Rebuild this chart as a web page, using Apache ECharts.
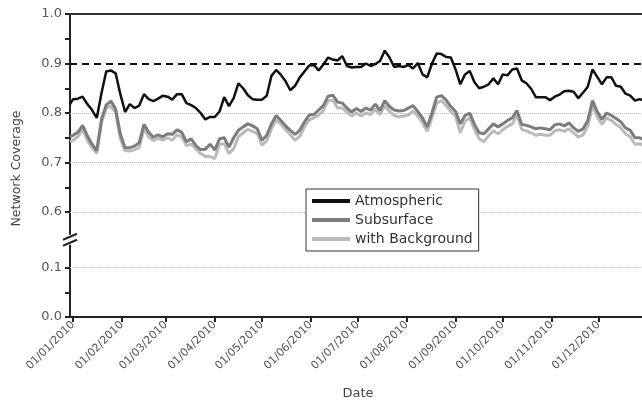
<!DOCTYPE html>
<html>
<head>
<meta charset="utf-8">
<script src="https://cdn.jsdelivr.net/npm/echarts@6/dist/echarts.min.js"></script>
<style>
  html, body { margin: 0; padding: 0; background: #fff; }
  #chart { width: 642px; height: 404px; }
</style>
</head>
<body>
<div id="chart"></div>
<script>
// day offsets from 01/01/2010, one sample every 3 days
const days = [-2, 0, 3, 6, 9, 12, 15, 18, 21, 24, 27, 30, 33, 36, 39, 42, 45, 48, 51, 54, 57,
  60, 63, 66, 69, 72, 75, 78, 81, 84, 87, 90, 93, 96, 99, 102, 105, 108, 111, 114, 117,
  120, 123, 126, 129, 132, 135, 138, 141, 144, 147, 150, 153, 156, 159, 162, 165, 168, 171, 174, 177,
  180, 183, 186, 189, 192, 195, 198, 201, 204, 207, 210, 213, 216, 219, 222, 225, 228, 231, 234, 237,
  240, 243, 246, 249, 252, 255, 258, 261, 264, 267, 270, 273, 276, 279, 282, 285, 288, 291, 294, 297,
  300, 303, 306, 309, 312, 315, 318, 321, 324, 327, 330, 333, 336, 339, 342, 345, 348, 351, 354, 357,
  360, 363]

const atmospheric = [0.818, 0.828, 0.829, 0.833, 0.818, 0.806, 0.790, 0.840, 0.884, 0.886, 0.880,
  0.838, 0.802, 0.818, 0.810, 0.815, 0.838, 0.828, 0.824, 0.829, 0.835,
  0.833, 0.827, 0.838, 0.838, 0.820, 0.816, 0.810, 0.800, 0.787, 0.792,
  0.792, 0.803, 0.832, 0.814, 0.830, 0.860, 0.850, 0.836, 0.828, 0.827,
  0.827, 0.835, 0.875, 0.887, 0.877, 0.864, 0.846, 0.855, 0.872, 0.884,
  0.896, 0.897, 0.886, 0.898, 0.912, 0.908, 0.906, 0.915, 0.895, 0.892,
  0.893, 0.893, 0.900, 0.895, 0.899, 0.905, 0.926, 0.912, 0.893, 0.895,
  0.893, 0.897, 0.890, 0.901, 0.878, 0.872, 0.900, 0.920, 0.919, 0.913,
  0.912, 0.888, 0.858, 0.878, 0.885, 0.862, 0.850, 0.853, 0.858, 0.870,
  0.858, 0.878, 0.876, 0.888, 0.890, 0.866, 0.860, 0.849, 0.832, 0.832,
  0.832, 0.826, 0.833, 0.837, 0.844, 0.845, 0.843, 0.830, 0.841, 0.853,
  0.888, 0.873, 0.858, 0.872, 0.872, 0.855, 0.853, 0.839, 0.835, 0.825,
  0.828, 0.825]

const subsurface = [0.752, 0.755, 0.761, 0.775, 0.754, 0.737, 0.724, 0.787, 0.816, 0.824, 0.808,
  0.757, 0.730, 0.730, 0.733, 0.740, 0.777, 0.761, 0.751, 0.756, 0.752,
  0.758, 0.757, 0.766, 0.761, 0.742, 0.748, 0.734, 0.726, 0.727, 0.737,
  0.725, 0.748, 0.750, 0.731, 0.750, 0.765, 0.772, 0.778, 0.774, 0.768,
  0.745, 0.755, 0.778, 0.795, 0.785, 0.774, 0.765, 0.757, 0.765, 0.782,
  0.796, 0.797, 0.806, 0.815, 0.834, 0.836, 0.822, 0.820, 0.810, 0.802,
  0.809, 0.803, 0.810, 0.806, 0.818, 0.805, 0.825, 0.813, 0.806, 0.804,
  0.805, 0.810, 0.815, 0.803, 0.790, 0.772, 0.800, 0.832, 0.835, 0.826,
  0.813, 0.803, 0.778, 0.795, 0.800, 0.777, 0.760, 0.758, 0.768, 0.778,
  0.772, 0.778, 0.785, 0.790, 0.805, 0.777, 0.775, 0.772, 0.768, 0.770,
  0.768, 0.766, 0.776, 0.778, 0.774, 0.780, 0.770, 0.763, 0.768, 0.785,
  0.825, 0.803, 0.787, 0.800, 0.795, 0.789, 0.782, 0.770, 0.765, 0.750,
  0.750, 0.745]

const withBackground = [0.742, 0.745, 0.752, 0.767, 0.745, 0.730, 0.718, 0.780, 0.810, 0.814, 0.800,
  0.748, 0.724, 0.723, 0.726, 0.730, 0.768, 0.752, 0.744, 0.749, 0.745,
  0.750, 0.745, 0.756, 0.752, 0.734, 0.737, 0.728, 0.718, 0.712, 0.712,
  0.708, 0.737, 0.738, 0.718, 0.728, 0.752, 0.760, 0.767, 0.763, 0.758,
  0.735, 0.744, 0.768, 0.786, 0.778, 0.766, 0.756, 0.745, 0.753, 0.772,
  0.786, 0.790, 0.796, 0.805, 0.825, 0.826, 0.810, 0.810, 0.802, 0.794,
  0.800, 0.794, 0.800, 0.797, 0.808, 0.797, 0.815, 0.803, 0.795, 0.792,
  0.794, 0.796, 0.804, 0.794, 0.780, 0.763, 0.790, 0.820, 0.825, 0.815,
  0.803, 0.793, 0.760, 0.784, 0.790, 0.767, 0.748, 0.742, 0.754, 0.764,
  0.758, 0.766, 0.773, 0.778, 0.795, 0.767, 0.764, 0.760, 0.755, 0.757,
  0.755, 0.755, 0.764, 0.766, 0.763, 0.768, 0.760, 0.752, 0.756, 0.773,
  0.815, 0.793, 0.777, 0.790, 0.785, 0.777, 0.770, 0.758, 0.752, 0.737,
  0.738, 0.733]

const legendNames = ['Atmospheric', 'Subsurface', 'with Background']
const upperGrid = [0.6, 0.7, 0.8]
const lowerGrid = [0.1]
const threshold = 0.9
// the y axis is broken between these two values
const breakStart = 0.15
const breakEnd = 0.55

const start = Date.UTC(2010, 0, 1)
const xMin = Date.UTC(2009, 11, 30)
const xMax = Date.UTC(2010, 11, 31)
const DAY = 86400000
function pairs (vals) {
  return days.map((d, i) => [start + d * DAY, vals[i]])
}
function pad (n) { return (n < 10 ? '0' : '') + n }
function tenth (v) {
  return Math.abs(v * 10 - Math.round(v * 10)) < 1e-6
}

const font = 'DejaVu Sans'
const axisColor = '#222'
const labelColor = '#555'

function yAxisOf (gridIndex, min, max) {
  return {
    type: 'value',
    gridIndex: gridIndex,
    min: min,
    max: max,
    interval: 0.05,
    axisLine: { show: true, lineStyle: { color: axisColor, width: 2 } },
    axisTick: { show: true, inside: false, length: 5, lineStyle: { color: axisColor, width: 2 } },
    axisLabel: {
      fontFamily: font,
      fontSize: 13,
      color: labelColor,
      margin: 8,
      formatter: function (v) {
        return tenth(v) ? v.toFixed(1) : ''
      }
    },
    splitLine: { show: false }
  }
}

let myChart = echarts.init(document.getElementById('chart'))
myChart.setOption({
  backgroundColor: '#fff',
  animation: false,
  textStyle: { fontFamily: font },
  grid: [{
    left: 70,
    top: 14,
    right: -4,
    height: 222.75,
    containLabel: false,
    outerBoundsMode: 'none'
  }, {
    left: 70,
    top: 242.75,
    right: -4,
    bottom: 87,
    containLabel: false,
    outerBoundsMode: 'none'
  }],
  legend: {
    orient: 'vertical',
    left: 306,
    top: 189,
    data: legendNames,
    icon: 'rect',
    itemWidth: 38,
    itemHeight: 4,
    itemGap: 5,
    padding: [5, 6, 5, 6],
    borderColor: '#333',
    borderWidth: 1,
    backgroundColor: '#fff',
    textStyle: { fontFamily: font, fontSize: 14, color: '#333' }
  },
  xAxis: [{
    type: 'time',
    gridIndex: 0,
    position: 'top',
    min: xMin,
    max: xMax,
    axisLine: { show: true, lineStyle: { color: '#333', width: 2 } },
    axisTick: { show: false },
    axisLabel: { show: false },
    splitLine: { show: false }
  }, {
    type: 'time',
    gridIndex: 1,
    min: xMin,
    max: xMax,
    splitNumber: 12,
    name: 'Date',
    nameLocation: 'middle',
    nameGap: 70,
    nameTextStyle: { fontFamily: font, fontSize: 13, color: '#444' },
    axisLine: { lineStyle: { color: axisColor, width: 2 } },
    axisTick: { show: true, length: 5, lineStyle: { color: axisColor, width: 2 } },
    splitLine: { show: false },
    axisLabel: {
      rotate: 45,
      fontFamily: font,
      fontSize: 11,
      color: labelColor,
      margin: 6,
      formatter: function (v) {
        let d = new Date(v)
        return pad(d.getUTCDate()) + '/' + pad(d.getUTCMonth() + 1) + '/' + d.getUTCFullYear()
      }
    }
  }],
  yAxis: [yAxisOf(0, breakEnd, 1), yAxisOf(1, 0, breakStart)],
  series: [
    {
      name: 'with Background',
      type: 'line',
      xAxisIndex: 0,
      yAxisIndex: 0,
      data: pairs(withBackground),
      symbol: 'none',
      z: 2,
      lineStyle: { color: '#bababa', width: 3 },
      itemStyle: { color: '#bababa' },
      markLine: {
        symbol: 'none',
        silent: true,
        z: 1,
        data: upperGrid.map(v => ({ yAxis: v })),
        lineStyle: { type: 'dotted', color: '#bbb', width: 1 },
        label: { show: false }
      }
    },
    {
      name: 'Subsurface',
      type: 'line',
      xAxisIndex: 0,
      yAxisIndex: 0,
      data: pairs(subsurface),
      symbol: 'none',
      z: 3,
      lineStyle: { color: '#7c7c7c', width: 3 },
      itemStyle: { color: '#7c7c7c' }
    },
    {
      name: 'Atmospheric',
      type: 'line',
      xAxisIndex: 0,
      yAxisIndex: 0,
      data: pairs(atmospheric),
      symbol: 'none',
      z: 4,
      lineStyle: { color: '#111', width: 2.5 },
      itemStyle: { color: '#111' },
      markLine: {
        symbol: 'none',
        silent: true,
        data: [{ yAxis: threshold }],
        lineStyle: { type: [7, 5], color: '#111', width: 2 },
        label: { show: false }
      }
    },
    {
      name: 'lower',
      type: 'line',
      xAxisIndex: 1,
      yAxisIndex: 1,
      data: [],
      markLine: {
        symbol: 'none',
        silent: true,
        data: lowerGrid.map(v => ({ yAxis: v })),
        lineStyle: { type: 'dotted', color: '#bbb', width: 1 },
        label: { show: false }
      }
    }
  ]
})

// "//" break marks and the shared y axis title, placed from the axis scales
let yTop = myChart.convertToPixel({ yAxisIndex: 0 }, breakEnd)
let yBot = myChart.convertToPixel({ yAxisIndex: 1 }, breakStart)
let yHigh = myChart.convertToPixel({ yAxisIndex: 0 }, 1)
let yLow = myChart.convertToPixel({ yAxisIndex: 1 }, 0)
let ax = myChart.convertToPixel({ xAxisIndex: 0 }, xMin)
let mid = (yTop + yBot) / 2
myChart.setOption({
  graphic: [
    { type: 'rect', z: 100, shape: { x: ax - 8, y: yTop - 2, width: 11, height: yBot - yTop + 4 }, style: { fill: '#fff' } },
    { type: 'line', z: 101, shape: { x1: ax - 7, y1: mid, x2: ax + 7, y2: mid - 6 }, style: { stroke: axisColor, lineWidth: 2 } },
    { type: 'line', z: 101, shape: { x1: ax - 7, y1: mid + 6, x2: ax + 7, y2: mid }, style: { stroke: axisColor, lineWidth: 2 } },
    {
      type: 'text',
      z: 100,
      x: ax - 53,
      y: (yHigh + yLow) / 2 + 3,
      rotation: Math.PI / 2,
      style: {
        text: 'Network Coverage',
        fontFamily: font,
        fontSize: 12.5,
        fill: '#444',
        align: 'center',
        verticalAlign: 'middle'
      }
    }
  ]
})
</script>
</body>
</html>
